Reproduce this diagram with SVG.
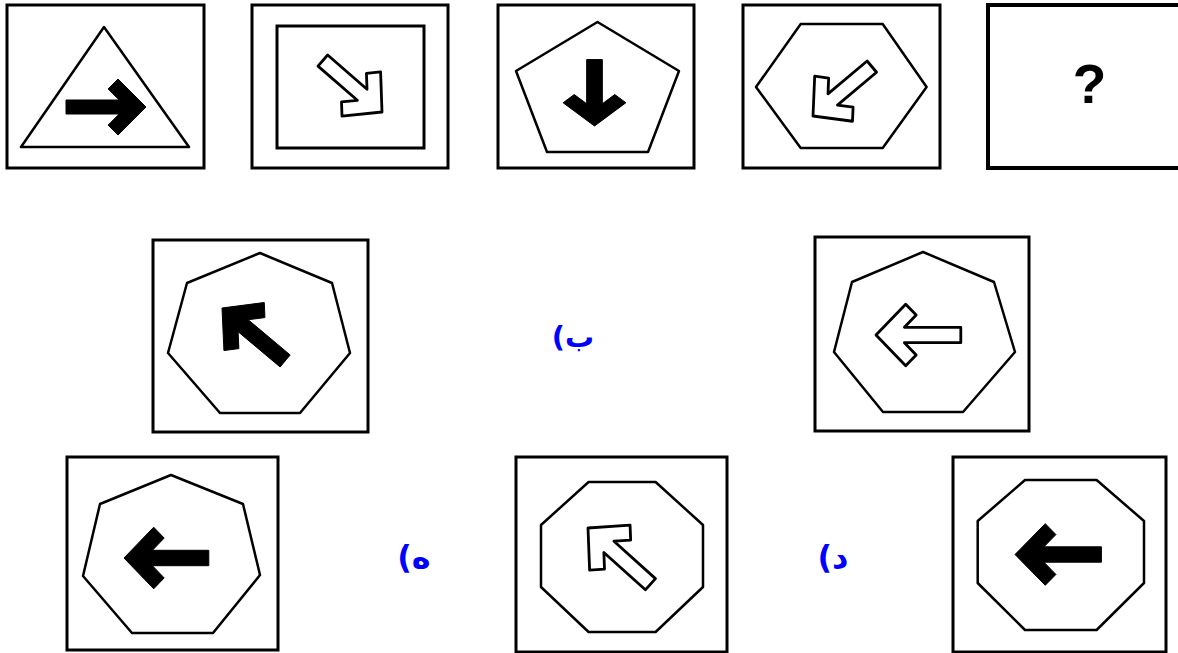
<svg xmlns="http://www.w3.org/2000/svg" xmlns:xlink="http://www.w3.org/1999/xlink" width="1178" height="653" viewBox="0 0 1178 653">
<style>
.box{fill:#fff;stroke:#000;stroke-width:3}
.shape{fill:none;stroke:#000;stroke-width:2.5;stroke-linejoin:round}
.af{fill:#000;stroke:#000;stroke-width:1}
.ao{fill:#fff;stroke:#000;stroke-width:2.8;stroke-linejoin:round}
.lbl{font-family:"DejaVu Sans",sans-serif;font-weight:bold;fill:#0000ff}
.q{font-family:"Liberation Sans",Arial,sans-serif;font-weight:bold;font-size:55px;fill:#000}
</style>
<defs>
<path id="arr" vector-effect="non-scaling-stroke" d="M-80,-7 L-26.8,-7 L-37.9,-18.1 L-28,-28 L0,0 L-28,28 L-37.9,18.1 L-26.8,7 L-80,7 Z"/>
</defs>
<rect width="1178" height="653" fill="#fff"/>
<g id="q1">
<rect class="box" x="7" y="5" width="197" height="163"/>
<polygon class="shape" points="104,27 189,147 21,147"/>
<use href="#arr" class="af" transform="translate(146,107)"/>
</g>
<g id="q2">
<rect class="box" x="252" y="5" width="196" height="163"/>
<rect class="box" x="277" y="26" width="147" height="122"/>
<use href="#arr" class="ao" transform="translate(382,112) rotate(41) scale(0.98,1.05)"/>
</g>
<g id="q3">
<rect class="box" x="498" y="5" width="196" height="163"/>
<polygon class="shape" points="597.5,22 679,71 648,152 547,152 516,71"/>
<use href="#arr" class="af" transform="translate(594.5,126) rotate(90) scale(0.83,1.12)"/>
</g>
<g id="q4">
<rect class="box" x="743" y="5" width="197" height="163"/>
<polygon class="shape" points="800.7,24 882.7,24 926.6,87 882.7,148 800.7,148 756,87"/>
<use href="#arr" class="ao" transform="translate(813,116) rotate(140) scale(0.96,1.05)"/>
</g>
<g id="q5">
<rect class="box" x="988" y="5" width="194" height="163" style="stroke-width:4"/>
<text class="q" x="1089.5" y="103" text-anchor="middle">?</text>
</g>
<g id="opt-a">
<rect class="box" x="153" y="240" width="215" height="192"/>
<polygon class="shape" points="260,253 332,283 350,353 300,413 220,413 168,353 187,283"/>
<use href="#arr" class="af" transform="translate(222,308) rotate(-140) scale(1.03,1.12)"/>
</g>
<g id="label-b">
<text class="lbl" x="573" y="347" font-size="29" text-anchor="middle" direction="rtl">ب)</text>
</g>
<g id="opt-b">
<rect class="box" x="815" y="237" width="214" height="194"/>
<polygon class="shape" points="923,252 994,282 1015,352 963,412 883,412 834,352 852,282"/>
<use href="#arr" class="ao" transform="translate(876,335) rotate(180) scale(1.06,1.1)"/>
</g>
<g id="opt-c">
<rect class="box" x="67" y="457" width="211" height="193"/>
<polygon class="shape" points="171,475 243,504 260,575 213,633 132,633 83,576 100,504"/>
<use href="#arr" class="af" transform="translate(124,558) rotate(180) scale(1.06,1.1)"/>
</g>
<g id="label-h">
<text class="lbl" x="414" y="568" font-size="32" text-anchor="middle" direction="rtl">ه)</text>
</g>
<g id="opt-d">
<rect class="box" x="516" y="457" width="211" height="195"/>
<polygon class="shape" points="588.6,482 655.6,482 703,525 703,587 655.6,632 588.6,632 541,587 541,525"/>
<use href="#arr" class="ao" transform="translate(588,528) rotate(-138) scale(1.05,1.08)"/>
</g>
<g id="label-d">
<text class="lbl" x="833" y="568" font-size="32" text-anchor="middle" direction="rtl">د)</text>
</g>
<g id="opt-e">
<rect class="box" x="953" y="457" width="213" height="195"/>
<polygon class="shape" points="1025,480 1096.6,480 1144,521 1144,583 1096.6,630 1025,630 977.7,583 977.7,521"/>
<use href="#arr" class="af" transform="translate(1015,554.5) rotate(180) scale(1.08,1.1)"/>
</g>
<g id="connectors"/>
</svg>
